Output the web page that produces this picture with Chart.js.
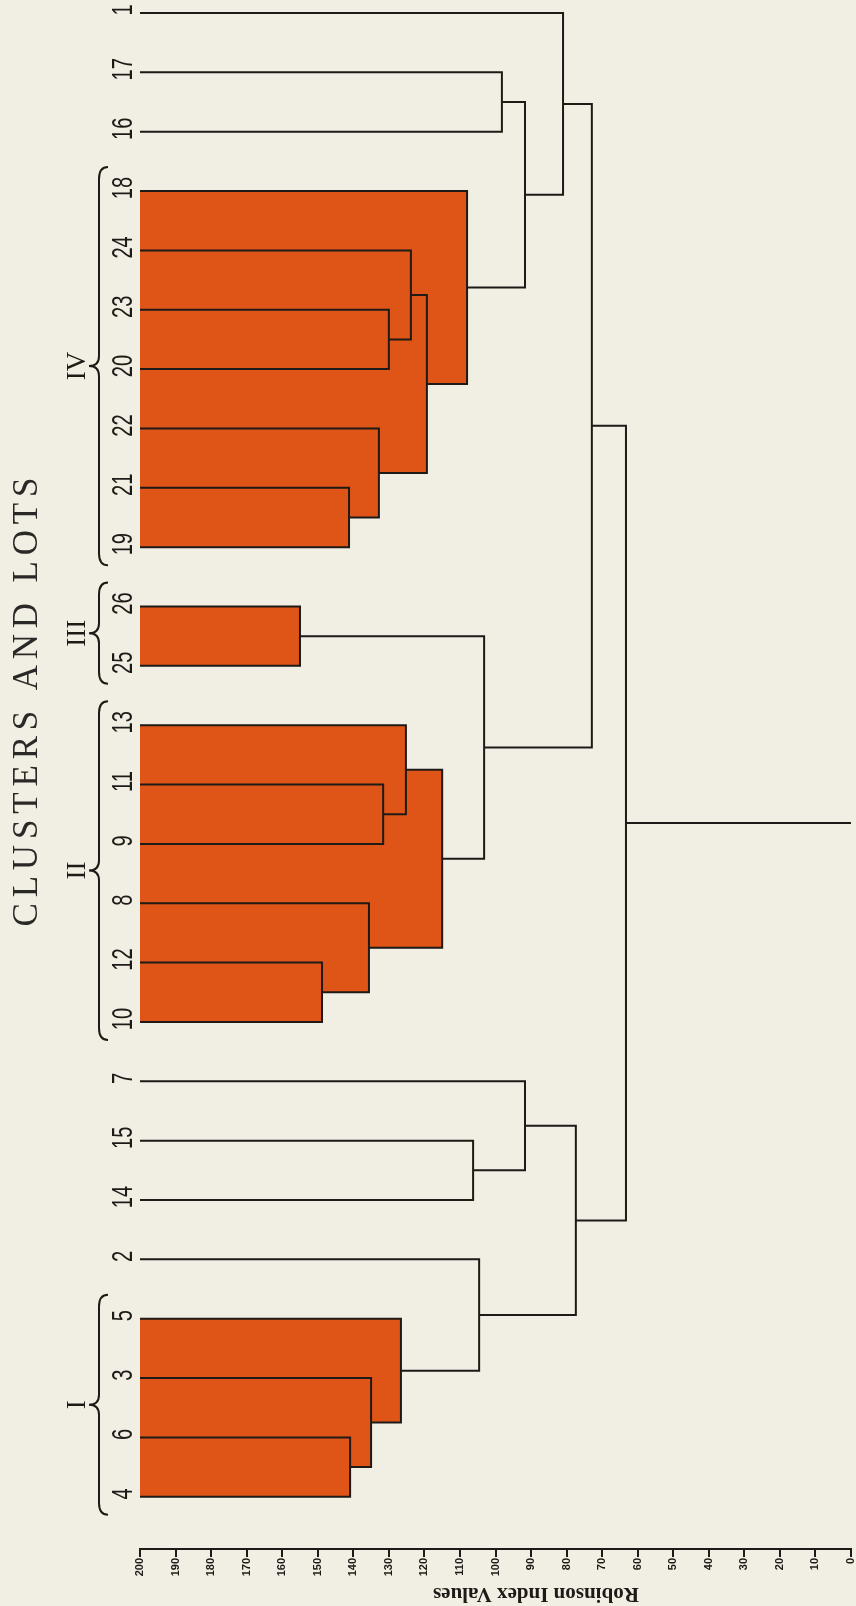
<!DOCTYPE html>
<html>
<head>
<meta charset="utf-8">
<script src="https://cdn.jsdelivr.net/npm/chart.js@4.4.1/dist/chart.umd.min.js"></script>
<style>
  html, body { margin: 0; padding: 0; background: #f1efe3; }
  #wrap { width: 856px; height: 1606px; position: relative; }
</style>
</head>
<body>
<div id="wrap"><canvas id="dendro"></canvas></div>
<script>
// leaves, top to bottom as drawn
var leafOrder = ['1', '17', '16', '18', '24', '23', '20', '22', '21', '19', '26', '25', '13', '11', '9', '8', '12', '10', '7', '15', '14', '2', '5', '3', '6', '4'];

// joins: a node is a leaf label or 'm' + join number (1-based)
var joinA = ['26', '12', '21', '6', '8', '3', '22', '11', '23', '5', '13', '24', 'm12', 'm11', '18', '15', '2', 'm1', '17', 'm19', '7', '1', 'm21', 'm22', 'm24'];
var joinB = ['25', '10', '19', '4', 'm2', 'm4', 'm3', '9', '20', 'm6', 'm8', 'm9', 'm7', 'm5', 'm13', '14', 'm10', 'm14', '16', 'm15', 'm16', 'm20', 'm17', 'm18', 'm23'];
var joinHeight = [155, 148.8, 141.2, 140.9, 135.6, 135, 132.8, 131.6, 130, 126.6, 125.2, 123.8, 119.3, 115, 108, 106.3, 104.6, 103.2, 98.2, 91.7, 91.7, 81, 77.4, 72.9, 63.3];

// shaded clusters
var clusterNames = ['IV', 'III', 'II', 'I'];
var clusterFirst = ['18', '26', '13', '5'];
var clusterLast = ['19', '25', '10', '4'];

var indexMin = 0, indexMax = 200, indexStep = 10;

var ink = '#1d1a17';
var orange = '#de5517';

// node positions
var nodes = {};
leafOrder.forEach(function (lab, i) {
    nodes[lab] = { pos: i, h: indexMax, lo: i, hi: i };
});
joinHeight.forEach(function (h, k) {
    var a = nodes[joinA[k]], b = nodes[joinB[k]];
    nodes['m' + (k + 1)] = { pos: (a.pos + b.pos) / 2, h: h, lo: Math.min(a.lo, b.lo), hi: Math.max(a.hi, b.hi) };
});

function inCluster(n) {
    for (var c = 0; c < clusterNames.length; c++) {
        var f = leafOrder.indexOf(clusterFirst[c]), l = leafOrder.indexOf(clusterLast[c]);
        if (n.lo >= f && n.hi <= l) return true;
    }
    return false;
}

var datasets = [];
joinHeight.forEach(function (h, k) {
    var a = nodes[joinA[k]], b = nodes[joinB[k]];
    datasets.push({
        data: [{x: a.h, y: a.pos}, {x: h, y: a.pos}, {x: h, y: b.pos}, {x: b.h, y: b.pos}],
        borderColor: ink, borderWidth: 2, pointRadius: 0, fill: false,
        borderJoinStyle: 'miter', tension: 0, clip: false, order: 0
    });
    if (inCluster(nodes['m' + (k + 1)])) {
        datasets.push({
            data: [{x: indexMax, y: a.pos}, {x: h, y: a.pos}, {x: h, y: b.pos}, {x: indexMax, y: b.pos}],
            borderColor: 'rgba(0,0,0,0)', borderWidth: 0, pointRadius: 0,
            backgroundColor: orange, fill: 'shape', tension: 0, clip: false, order: 1
        });
    }
});
// root stem
var root = nodes['m' + joinHeight.length];
datasets.push({
    data: [{x: root.h, y: root.pos}, {x: indexMin, y: root.pos}],
    borderColor: ink, borderWidth: 2, pointRadius: 0, fill: false, clip: false, order: 0
});

function brace(ctx, sx, a, b) {
    var m = (a + b) / 2;
    ctx.beginPath();
    ctx.moveTo(sx + 9, a);
    ctx.quadraticCurveTo(sx, a, sx, a + 12);
    ctx.lineTo(sx, m - 10);
    ctx.quadraticCurveTo(sx, m, sx - 10, m);
    ctx.quadraticCurveTo(sx, m, sx, m + 10);
    ctx.lineTo(sx, b - 12);
    ctx.quadraticCurveTo(sx, b, sx + 9, b);
    ctx.stroke();
}

var annotate = {
    id: 'annotate',
    afterDraw: function (chart) {
        var ctx = chart.ctx;
        var xs = chart.scales.x, ys = chart.scales.y;
        var left = xs.getPixelForValue(indexMax);
        ctx.save();
        ctx.fillStyle = ink;
        ctx.strokeStyle = ink;
        ctx.textBaseline = 'alphabetic';
        ctx.textAlign = 'center';

        // leaf labels, narrow sans
        ctx.font = '28px "Liberation Sans", Arial, sans-serif';
        leafOrder.forEach(function (lab, i) {
            ctx.save();
            ctx.translate(left - 8, ys.getPixelForValue(i) - 3);
            ctx.rotate(-Math.PI / 2);
            ctx.scale(0.72, 1.05);
            ctx.fillText(lab, 0, 0);
            ctx.restore();
        });

        // braces and cluster numerals
        ctx.lineWidth = 2;
        ctx.font = '27px "Liberation Serif"';
        clusterNames.forEach(function (name, c) {
            var top = ys.getPixelForValue(leafOrder.indexOf(clusterFirst[c])) - 24;
            var bot = ys.getPixelForValue(leafOrder.indexOf(clusterLast[c])) + 18;
            brace(ctx, 99, top, bot);
            ctx.save();
            ctx.translate(85, (top + bot) / 2);
            ctx.rotate(-Math.PI / 2);
            ctx.fillText(name, 0, 0);
            ctx.restore();
        });

        // heading
        var title = 'CLUSTERS AND LOTS';
        ctx.fillStyle = '#2b2927';
        ctx.font = '35px "Liberation Serif"';
        var w = ctx.measureText(title).width;
        var sp = Math.max((449 - w) / (title.length - 1), 0);
        ctx.letterSpacing = sp + 'px';
        ctx.save();
        ctx.translate(37, 702 - sp / 2);
        ctx.rotate(-Math.PI / 2);
        ctx.fillText(title, 0, 0);
        ctx.restore();
        ctx.letterSpacing = '0px';

        // axis title, upside down as printed
        ctx.fillStyle = ink;
        ctx.font = 'bold 21px "Liberation Serif"';
        ctx.save();
        ctx.translate(536, 1588);
        ctx.rotate(Math.PI);
        ctx.fillText('Robinson Index Values', 0, 0);
        ctx.restore();

        ctx.restore();
    }
};

new Chart(document.getElementById('dendro').getContext('2d'), {
    type: 'line',
    data: { datasets: datasets },
    options: {
        responsive: true,
        maintainAspectRatio: false,
        devicePixelRatio: 1,
        animation: false,
        events: [],
        layout: { padding: { left: 140, right: 5, top: 13, bottom: 0 } },
        plugins: { legend: { display: false }, tooltip: { enabled: false } },
        scales: {
            x: {
                type: 'linear', min: indexMin, max: indexMax, reverse: true, position: 'bottom',
                afterFit: function (axis) { axis.height = 57; axis.paddingLeft = 0; axis.paddingRight = 0; },
                border: { display: true, color: ink, width: 2 },
                grid: { display: true, drawOnChartArea: false, drawTicks: true, tickLength: 8, color: ink, lineWidth: 2 },
                ticks: {
                    stepSize: indexStep, autoSkip: false, minRotation: 90, maxRotation: 90, padding: 1,
                    color: ink, font: { family: 'Liberation Sans', weight: 'bold', size: 11 }
                }
            },
            y: { type: 'linear', min: 0, max: 25.88, reverse: true, display: false }
        }
    },
    plugins: [annotate]
});
</script>
</body>
</html>
